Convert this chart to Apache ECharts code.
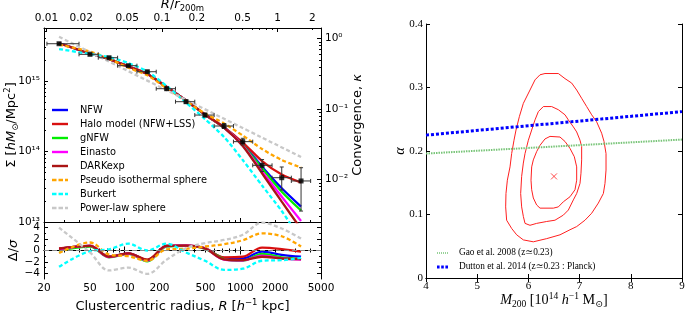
<!DOCTYPE html>
<html><head><meta charset="utf-8">
<script src="https://cdn.jsdelivr.net/npm/echarts@6/dist/echarts.min.js"></script>
<style>html,body{margin:0;padding:0;background:#fff}#c{width:685px;height:314px}</style>
</head><body><div id="c"></div>
<script>
const SANS = "'DejaVu Sans', sans-serif";
const SERIF = "'Liberation Serif', 'DejaVu Serif', serif";

// ---------- left panel: observed profile ----------
const radius   = [27.0, 50.0, 73.1, 107.4, 156.8, 230.8, 339, 495, 724, 1051, 1544, 2286, 3360];
const radiusLo = [21.2, 40.2, 59.0, 86.7, 127.5, 187.3, 275, 404, 594, 873, 1282, 1884, 2768];
const radiusHi = [40.2, 59.0, 86.7, 127.5, 187.3, 275, 404, 594, 873, 1282, 1884, 2768, 4066];
const sigmaObs = [3.38e15, 2.39e15, 2.14e15, 1.65e15, 1.355e15, 7.78e14, 5.09e14, 3.29e14, 2.30e14, 1.38e14, 6.37e13, 4.25e13, 3.82e13];
const sigmaLo  = [3.30e15, 2.33e15, 2.08e15, 1.60e15, 1.31e15, 7.45e14, 4.85e14, 3.10e14, 2.12e14, 1.24e14, 5.20e13, 2.84e13, 1.43e13];
const sigmaHi  = [3.46e15, 2.45e15, 2.20e15, 1.70e15, 1.40e15, 8.10e14, 5.35e14, 3.48e14, 2.48e14, 1.54e14, 7.69e13, 6.03e13, 5.89e13];

// ---------- left panel: model profiles ----------
const sigmaNFW      = [3.43e15, 2.455e15, 2.05e15, 1.606e15, 1.257e15, 8.22e14, 5.29e14, 3.35e14, 2.19e14, 1.278e14, 6.09e13, 3.01e13, 1.65e13];
const sigmaHalo     = [3.43e15, 2.455e15, 2.05e15, 1.606e15, 1.257e15, 8.22e14, 5.29e14, 3.35e14, 2.19e14, 1.342e14, 7.33e13, 4.72e13, 3.63e13];
const sigmaGNFW     = [3.43e15, 2.455e15, 2.05e15, 1.606e15, 1.257e15, 8.22e14, 5.29e14, 3.35e14, 2.19e14, 1.237e14, 5.78e13, 2.69e13, 1.456e13];
const sigmaEinasto  = [3.43e15, 2.455e15, 2.05e15, 1.606e15, 1.257e15, 8.22e14, 5.29e14, 3.35e14, 2.19e14, 1.217e14, 5.20e13, 2.285e13, 1.033e13];
const sigmaDARKexp  = [3.43e15, 2.455e15, 2.05e15, 1.606e15, 1.257e15, 8.22e14, 5.29e14, 3.35e14, 2.19e14, 1.197e14, 4.91e13, 1.941e13, 7.96e12];
const sigmaPseudoIso= [3.28e15, 2.62e15, 2.07e15, 1.544e15, 1.205e15, 7.88e14, 5.20e14, 3.46e14, 2.50e14, 1.687e14, 1.085e14, 7.58e13, 5.93e13];
const sigmaBurkert  = [2.84e15, 2.415e15, 2.19e15, 1.80e15, 1.364e15, 8.49e14, 4.95e14, 2.89e14, 1.606e14, 7.58e13, 3.29e13, 1.432e13, 5.56e12];
const powerLawRadius = [27.0, 3360];
const sigmaPowerLaw  = [4.24e15, 8.36e13];

// ---------- left panel: residuals Δ/σ ----------
const resNFW       = [0.3, 0.8, -1.1, -0.5, -1.7, 0.8, 0.85, 0.4, -1.3, -1.4, -0.2, -0.75, -1.1];
const resHalo      = [0.35, 0.8, -1.1, -0.5, -1.6, 0.8, 0.9, 0.4, -1.2, -1.1, 0.5, 0.25, -0.2];
const resGNFW      = [0.0, 0.7, -1.2, -0.6, -1.9, 0.7, 0.8, 0.3, -1.5, -1.8, -0.6, -1.2, -1.5];
const resEinasto   = [0.2, 0.8, -1.15, -0.55, -1.75, 0.75, 0.85, 0.35, -1.6, -1.75, -0.9, -1.4, -1.6];
const resDARKexp   = [0.3, 0.8, -1.1, -0.5, -1.65, 0.8, 0.85, 0.35, -1.55, -1.7, -1.1, -1.4, -1.5];
const resPseudoIso = [-0.45, 1.4, -0.7, -1.0, -1.8, 0.2, 0.3, 0.7, 1.1, 1.8, 3.0, 2.5, 0.7];
const resBurkert   = [-2.85, -0.1, 0.2, 1.2, 0.0, 1.2, -0.35, -1.8, -3.4, -3.2, -1.8, -1.7, -1.3];
const resPowerLaw  = [4.0, -0.35, -3.5, -3.0, -4.1, -1.6, 0.4, 1.3, 1.85, 2.75, 4.9, 3.85, 2.1];

// ---------- axes ----------
const rMin = 20, rMax = 5000, r200m = 2100;
const sigmaMin = 1e13, sigmaMax = 5.65e15, sigmaCrit = 3.98e15;
const bottomLabels = [20, 50, 100, 200, 500, 1000, 2000, 5000];
const bottomMajor = [100, 1000];
const bottomMinor = [20, 30, 40, 50, 60, 70, 80, 90, 200, 300, 400, 500, 600, 700, 800, 900, 2000, 3000, 4000, 5000];
const topLabels = [0.01, 0.02, 0.05, 0.1, 0.2, 0.5, 1, 2];
const topMajor = [0.01, 0.1, 1];
const topMinor = [0.02, 0.03, 0.04, 0.05, 0.06, 0.07, 0.08, 0.09, 0.2, 0.3, 0.4, 0.5, 0.6, 0.7, 0.8, 0.9, 2];
const sigmaMajor = [1e13, 1e14, 1e15];
const sigmaMinor = [2e13, 3e13, 4e13, 5e13, 6e13, 7e13, 8e13, 9e13, 2e14, 3e14, 4e14, 5e14, 6e14, 7e14, 8e14, 9e14, 2e15, 3e15, 4e15, 5e15];
const kappaMajor = [0.01, 0.1, 1];
const kappaMinor = [0.003, 0.004, 0.005, 0.006, 0.007, 0.008, 0.009, 0.02, 0.03, 0.04, 0.05, 0.06, 0.07, 0.08, 0.09, 0.2, 0.3, 0.4, 0.5, 0.6, 0.7, 0.8, 0.9];
const resMajor = [-4, -2, 0, 2, 4];
const resMinor = [-3, -1, 1, 3];

// ---------- right panel ----------
const outerM = [6.324, 6.585, 6.715, 6.845, 6.943, 7.040, 7.138, 7.236, 7.333, 7.431, 7.477, 7.516, 7.516, 7.496, 7.464, 7.366, 7.236, 7.105, 6.943, 6.813, 6.617, 6.357, 6.096, 5.901, 5.771, 5.673, 5.575, 5.556, 5.562, 5.589, 5.641, 5.673, 5.719, 5.758, 5.823, 5.901, 6.031, 6.129, 6.226, 6.324];
const outerA = [0.322, 0.322, 0.314, 0.307, 0.296, 0.283, 0.270, 0.257, 0.246, 0.228, 0.215, 0.196, 0.170, 0.149, 0.133, 0.118, 0.102, 0.091, 0.081, 0.076, 0.068, 0.062, 0.057, 0.060, 0.068, 0.078, 0.091, 0.112, 0.133, 0.154, 0.175, 0.196, 0.217, 0.233, 0.254, 0.275, 0.296, 0.312, 0.320, 0.322];
const middleM = [6.292, 6.454, 6.585, 6.715, 6.780, 6.878, 6.943, 7.008, 7.040, 7.040, 7.027, 7.008, 6.943, 6.878, 6.780, 6.682, 6.519, 6.357, 6.161, 6.031, 5.934, 5.901, 5.868, 5.849, 5.868, 5.901, 5.934, 5.999, 6.064, 6.129, 6.194, 6.292];
const middleA = [0.270, 0.270, 0.265, 0.257, 0.249, 0.238, 0.230, 0.217, 0.207, 0.186, 0.165, 0.149, 0.133, 0.123, 0.107, 0.099, 0.091, 0.089, 0.086, 0.083, 0.086, 0.097, 0.112, 0.133, 0.160, 0.181, 0.196, 0.217, 0.233, 0.249, 0.262, 0.270];
const innerM = [6.422, 6.617, 6.715, 6.813, 6.897, 6.943, 6.943, 6.910, 6.813, 6.682, 6.585, 6.487, 6.227, 6.161, 6.096, 6.064, 6.051, 6.064, 6.096, 6.161, 6.227, 6.324, 6.422];
const innerA = [0.223, 0.222, 0.215, 0.204, 0.191, 0.175, 0.154, 0.139, 0.128, 0.120, 0.112, 0.110, 0.110, 0.115, 0.126, 0.139, 0.154, 0.175, 0.186, 0.199, 0.209, 0.219, 0.223];
const bestM = [6.5], bestA = [0.16];
const gaoM = [4, 9], gaoA = [0.196, 0.218];
const duttonM = [4, 9], duttonA = [0.225, 0.262];

const SOLID_ICON = 'path://M0,0h16v2.4h-16z';
const DASH_ICON = 'path://M0,0h4.5v2.4h-4.5zM6.5,0h4.5v2.4h-4.5zM13,0h3v2.4h-3z';
const models = [
  {name: 'NFW', sigma: sigmaNFW, res: resNFW, color: '#0000ff', dash: 'solid', icon: SOLID_ICON},
  {name: 'Halo model (NFW+LSS)', sigma: sigmaHalo, res: resHalo, color: '#d81010', dash: 'solid', icon: SOLID_ICON},
  {name: 'gNFW', sigma: sigmaGNFW, res: resGNFW, color: '#00ee00', dash: 'solid', icon: SOLID_ICON},
  {name: 'Einasto', sigma: sigmaEinasto, res: resEinasto, color: '#ff00ff', dash: 'solid', icon: SOLID_ICON},
  {name: 'DARKexp', sigma: sigmaDARKexp, res: resDARKexp, color: '#aa1515', dash: 'solid', icon: SOLID_ICON},
  {name: 'Pseudo isothermal sphere', sigma: sigmaPseudoIso, res: resPseudoIso, color: '#ffa500', dash: [4, 2.5], icon: DASH_ICON},
  {name: 'Burkert', sigma: sigmaBurkert, res: resBurkert, color: '#00ffff', dash: [4, 2.5], icon: DASH_ICON},
  {name: 'Power-law sphere', sigma: sigmaPowerLaw, r: powerLawRadius, res: resPowerLaw, color: '#c8c8c8', dash: [4, 2.5], icon: DASH_ICON}
];
const GAO = 'Gao et al. 2008 (z≃0.23)';
const DUTTON = 'Dutton et al. 2014 (z≃0.23 : Planck)';

const zip = (a, b) => a.map((v, i) => [v, b[i]]);
const sup = (e) => {
  const m = {'-': '⁻', '0': '⁰', '1': '¹', '2': '²', '3': '³', '4': '⁴', '5': '⁵', '6': '⁶', '7': '⁷', '8': '⁸', '9': '⁹'};
  return String(e).split('').map(c => m[c]).join('');
};
const expLabel = v => '10' + sup(Math.round(Math.log10(v)));

const tickMajor = (vals, len) => ({show: true, inside: true, length: len || 4, customValues: vals, lineStyle: {color: '#000', width: 1}});
const line = {show: true, lineStyle: {color: '#000', width: 1}};
const noLine = {show: false};
const noLabel = {show: false};
const noSplit = {show: false};
const sansLbl = (vals, extra) => Object.assign({customValues: vals, fontFamily: SANS, fontSize: 10.5, color: '#000'}, extra || {});

const richSans = {
  n: {fontFamily: SANS, fontSize: 13, color: '#000', verticalAlign: 'middle', lineHeight: 17},
  i: {fontFamily: SANS, fontSize: 13, color: '#000', fontStyle: 'italic', verticalAlign: 'middle', lineHeight: 17},
  sub: {fontFamily: SANS, fontSize: 8.5, color: '#000', verticalAlign: 'bottom'},
  sup: {fontFamily: SANS, fontSize: 8.5, color: '#000', verticalAlign: 'top'}
};
const richSerif = {
  n: {fontFamily: SERIF, fontSize: 14.2, color: '#000', verticalAlign: 'middle', lineHeight: 18},
  i: {fontFamily: SERIF, fontSize: 14.2, color: '#000', fontStyle: 'italic', verticalAlign: 'middle', lineHeight: 18},
  sub: {fontFamily: SERIF, fontSize: 9.5, color: '#000', verticalAlign: 'bottom'},
  sup: {fontFamily: SERIF, fontSize: 9.5, color: '#000', verticalAlign: 'top'}
};

const xAxis = [
  {gridIndex: 0, type: 'log', position: 'bottom', min: rMin, max: rMax, axisLine: line, axisTick: tickMajor(bottomMajor), axisLabel: noLabel, splitLine: noSplit},
  {gridIndex: 0, type: 'log', position: 'top', min: rMin / r200m, max: rMax / r200m, axisLine: line, axisTick: tickMajor(topMajor),
   axisLabel: sansLbl(topLabels, {margin: 4, formatter: v => String(+v.toPrecision(2))}), splitLine: noSplit,
   name: '{i|R}{n|/}{i|r}{sub|200m}', nameLocation: 'middle', nameGap: 15, nameMoveOverlap: false, nameTextStyle: {rich: richSans}},
  {gridIndex: 1, type: 'log', position: 'bottom', min: rMin, max: rMax, axisLine: line, axisTick: tickMajor(bottomMajor),
   axisLabel: sansLbl(bottomLabels, {margin: 4, formatter: v => String(Math.round(v))}), splitLine: noSplit,
   name: '{n|Clustercentric radius, }{i|R}{n| [}{i|h}{sup|−1}{n| kpc]}', nameLocation: 'middle', nameGap: 19, nameMoveOverlap: false, nameTextStyle: {rich: richSans}},
  {gridIndex: 1, type: 'log', position: 'top', min: rMin, max: rMax, axisLine: line, axisTick: tickMajor(bottomMajor), axisLabel: noLabel, splitLine: noSplit},
  {gridIndex: 2, type: 'value', position: 'bottom', min: 4, max: 9, interval: 1, axisLine: line,
   axisTick: {show: true, inside: true, length: 4, lineStyle: {color: '#000'}},
   axisLabel: {fontFamily: SERIF, fontSize: 11, color: '#000', margin: 3}, splitLine: noSplit,
   name: '{i|M}{sub|200}{n| [10}{sup|14}{n| }{i|h}{sup|−1}{n| M}{sub|⊙}{n|]}', nameLocation: 'middle', nameGap: 13, nameMoveOverlap: false, nameTextStyle: {rich: richSerif}},
  {gridIndex: 2, type: 'value', position: 'top', min: 4, max: 9, interval: 1, axisLine: line,
   axisTick: {show: true, inside: true, length: 4, lineStyle: {color: '#000'}}, axisLabel: noLabel, splitLine: noSplit},
  {gridIndex: 3, type: 'log', position: 'bottom', min: rMin, max: rMax, axisLine: noLine, axisTick: tickMajor(bottomMinor, 2), axisLabel: noLabel, splitLine: noSplit},
  {gridIndex: 3, type: 'log', position: 'top', min: rMin / r200m, max: rMax / r200m, axisLine: noLine, axisTick: tickMajor(topMinor, 2), axisLabel: noLabel, splitLine: noSplit},
  {gridIndex: 4, type: 'log', position: 'bottom', min: rMin, max: rMax, axisLine: noLine, axisTick: tickMajor(bottomMinor, 2), axisLabel: noLabel, splitLine: noSplit},
  {gridIndex: 4, type: 'log', position: 'top', min: rMin, max: rMax, axisLine: noLine, axisTick: tickMajor(bottomMinor, 2), axisLabel: noLabel, splitLine: noSplit}
];

const yAxis = [
  {gridIndex: 0, type: 'log', position: 'left', min: sigmaMin, max: sigmaMax, axisLine: line, axisTick: tickMajor(sigmaMajor),
   axisLabel: sansLbl(sigmaMajor, {margin: 4, formatter: expLabel}), splitLine: noSplit,
   name: '{n|Σ [}{i|hM}{sub|⊙}{n|/Mpc}{sup|2}{n|]}', nameLocation: 'middle', nameRotate: 90, nameGap: 24, nameMoveOverlap: false, nameTextStyle: {rich: richSans}},
  {gridIndex: 0, type: 'log', position: 'right', min: sigmaMin / sigmaCrit, max: sigmaMax / sigmaCrit, axisLine: line, axisTick: tickMajor(kappaMajor),
   axisLabel: sansLbl(kappaMajor, {margin: 4, formatter: expLabel}), splitLine: noSplit,
   name: '{n|Convergence, }{i|κ}', nameLocation: 'middle', nameRotate: 90, nameGap: 28, nameMoveOverlap: false, nameTextStyle: {rich: richSans}},
  {gridIndex: 1, type: 'value', position: 'left', min: -5, max: 5, axisLine: line, axisTick: tickMajor(resMajor),
   axisLabel: sansLbl(resMajor, {margin: 4, formatter: v => String(v).replace('-', '−')}), splitLine: noSplit,
   name: '{n|Δ/}{i|σ}', nameLocation: 'middle', nameRotate: 90, nameGap: 22, nameMoveOverlap: false, nameTextStyle: {rich: richSans}},
  {gridIndex: 1, type: 'value', position: 'right', min: -5, max: 5, axisLine: line, axisTick: tickMajor(resMajor), axisLabel: noLabel, splitLine: noSplit},
  {gridIndex: 2, type: 'value', position: 'left', min: 0, max: 0.4, interval: 0.1, axisLine: line,
   axisTick: {show: true, inside: true, length: 4, lineStyle: {color: '#000'}},
   axisLabel: {fontFamily: SERIF, fontSize: 11, color: '#000', margin: 3}, splitLine: noSplit,
   name: '{i|α}', nameLocation: 'middle', nameRotate: 90, nameGap: 17, nameMoveOverlap: false, nameTextStyle: {rich: richSerif}},
  {gridIndex: 2, type: 'value', position: 'right', min: 0, max: 0.4, interval: 0.1, axisLine: line,
   axisTick: {show: true, inside: true, length: 4, lineStyle: {color: '#000'}}, axisLabel: noLabel, splitLine: noSplit},
  {gridIndex: 3, type: 'log', position: 'left', min: sigmaMin, max: sigmaMax, axisLine: noLine, axisTick: tickMajor(sigmaMinor, 2), axisLabel: noLabel, splitLine: noSplit},
  {gridIndex: 3, type: 'log', position: 'right', min: sigmaMin / sigmaCrit, max: sigmaMax / sigmaCrit, axisLine: noLine, axisTick: tickMajor(kappaMinor, 2), axisLabel: noLabel, splitLine: noSplit},
  {gridIndex: 4, type: 'value', position: 'left', min: -5, max: 5, axisLine: noLine, axisTick: tickMajor(resMinor, 2), axisLabel: noLabel, splitLine: noSplit},
  {gridIndex: 4, type: 'value', position: 'right', min: -5, max: 5, axisLine: noLine, axisTick: tickMajor(resMinor, 2), axisLabel: noLabel, splitLine: noSplit}
];

const series = [];
models.forEach(m => {
  series.push({
    name: m.name, type: 'line', xAxisIndex: 0, yAxisIndex: 0, data: zip(m.r || radius, m.sigma),
    showSymbol: false, symbol: 'none', smooth: 0.25, clip: true,
    lineStyle: {color: m.color, width: 2.3, type: m.dash}, itemStyle: {color: m.color}, z: 2
  });
});
models.forEach((m, k) => {
  const s = {
    name: m.name, type: 'line', xAxisIndex: 2, yAxisIndex: 2, data: zip(radius, m.res),
    showSymbol: false, symbol: 'none', smooth: 0.35, clip: true,
    lineStyle: {color: m.color, width: 2.3, type: m.dash}, itemStyle: {color: m.color}, z: 2
  };
  if (k === 0) {
    s.markLine = {silent: true, symbol: 'none', label: {show: false},
      lineStyle: {color: '#888', type: [5, 3], width: 1.2}, data: [{yAxis: 0}]};
  }
  series.push(s);
});

const errData = radius.map((r, i) => [r, sigmaObs[i], radiusLo[i], radiusHi[i], sigmaLo[i], sigmaHi[i]]);
series.push({
  type: 'custom', xAxisIndex: 0, yAxisIndex: 0, data: errData, z: 5,
  encode: {x: [0, 2, 3], y: [1, 4, 5]},
  renderItem: (params, api) => {
    const x = api.value(0), y = api.value(1);
    const p = api.coord([x, y]);
    const xl = api.coord([api.value(2), y]), xh = api.coord([api.value(3), y]);
    const yl = api.coord([x, api.value(4)]), yh = api.coord([x, api.value(5)]);
    const st = {stroke: '#333', lineWidth: 1};
    const c = 2;
    return {type: 'group', children: [
      {type: 'line', shape: {x1: xl[0], y1: p[1], x2: xh[0], y2: p[1]}, style: st},
      {type: 'line', shape: {x1: xl[0], y1: p[1] - c, x2: xl[0], y2: p[1] + c}, style: st},
      {type: 'line', shape: {x1: xh[0], y1: p[1] - c, x2: xh[0], y2: p[1] + c}, style: st},
      {type: 'line', shape: {x1: p[0], y1: yl[1], x2: p[0], y2: yh[1]}, style: st},
      {type: 'line', shape: {x1: p[0] - c, y1: yl[1], x2: p[0] + c, y2: yl[1]}, style: st},
      {type: 'line', shape: {x1: p[0] - c, y1: yh[1], x2: p[0] + c, y2: yh[1]}, style: st}
    ]};
  }
});
series.push({type: 'scatter', xAxisIndex: 0, yAxisIndex: 0, data: zip(radius, sigmaObs), symbol: 'rect', symbolSize: 5, itemStyle: {color: '#000'}, z: 6});

// right panel
[[outerM, outerA], [middleM, middleA], [innerM, innerA]].forEach(([mx, ay]) => {
  series.push({type: 'line', xAxisIndex: 4, yAxisIndex: 4, data: zip(mx, ay), showSymbol: false, symbol: 'none',
    lineStyle: {color: '#ff2020', width: 1}, z: 3});
});
series.push({type: 'scatter', xAxisIndex: 4, yAxisIndex: 4, data: zip(bestM, bestA), symbol: 'path://M0,0L10,10M10,0L0,10', symbolSize: 6,
  itemStyle: {color: 'none', borderColor: '#ff2020', borderWidth: 1}, z: 4});
series.push({name: GAO, type: 'line', xAxisIndex: 4, yAxisIndex: 4, data: zip(gaoM, gaoA), showSymbol: false, symbol: 'none',
  lineStyle: {color: '#77c477', width: 2, type: [1.5, 1]}, itemStyle: {color: '#77c477'}, z: 3});
series.push({name: DUTTON, type: 'line', xAxisIndex: 4, yAxisIndex: 4, data: zip(duttonM, duttonA), showSymbol: false, symbol: 'none',
  lineStyle: {color: '#0000ff', width: 3, type: [3, 2]}, itemStyle: {color: '#0000ff'}, z: 3});

const rightLegendText = {fontFamily: SERIF, fontSize: 9.3, color: '#000', lineHeight: 14, padding: [0, 0, 0, 6]};
const option = {
  animation: false,
  backgroundColor: '#fff',
  grid: [
    {left: 44, top: 28, width: 277, height: 194, outerBoundsMode: 'none'},
    {left: 44, top: 222, width: 277, height: 57, outerBoundsMode: 'none'},
    {left: 426, top: 24, width: 256, height: 254, outerBoundsMode: 'none'},
    {left: 44, top: 28, width: 277, height: 194, outerBoundsMode: 'none'},
    {left: 44, top: 222, width: 277, height: 57, outerBoundsMode: 'none'}
  ],
  legend: [
    {data: models.map(m => ({name: m.name, icon: m.icon})), orient: 'vertical', left: 52, top: 103, padding: 0,
     itemWidth: 16, itemHeight: 2.4, itemGap: 0,
     textStyle: {fontFamily: SANS, fontSize: 9.8, color: '#000', lineHeight: 14, padding: [0, 0, 0, 7]}, selectedMode: false},
    {data: [{name: GAO, icon: 'path://M0,0h1v1.6h-1zM2,0h1v1.6h-1zM4,0h1v1.6h-1zM6,0h1v1.6h-1zM8,0h1v1.6h-1zM10,0h1v1.6h-1z'}],
     orient: 'vertical', left: 437, top: 246, padding: 0, itemWidth: 11, itemHeight: 1.6, itemGap: 0, textStyle: rightLegendText, selectedMode: false},
    {data: [{name: DUTTON, icon: 'path://M0,0h2.6v3h-2.6zM4.2,0h2.6v3h-2.6zM8.4,0h2.6v3h-2.6z'}],
     orient: 'vertical', left: 437, top: 260, padding: 0, itemWidth: 11, itemHeight: 3, itemGap: 0, textStyle: rightLegendText, selectedMode: false}
  ],
  xAxis, yAxis, series
};
const chart = echarts.init(document.getElementById('c'), null, {renderer: 'canvas'});
chart.setOption(option);
</script></body></html>
